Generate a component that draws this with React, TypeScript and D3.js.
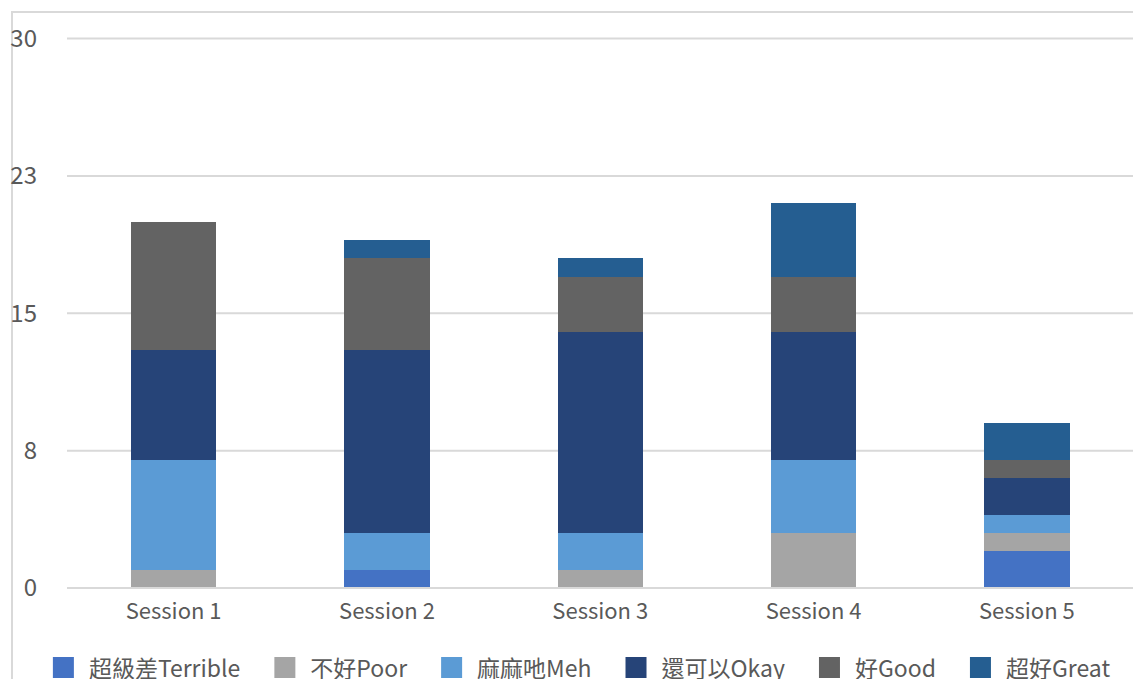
import React, { useEffect, useRef } from "react";
import * as d3 from "d3";

// Stacked survey responses per session
const sessions = ["Session 1", "Session 2", "Session 3", "Session 4", "Session 5"];
const seriesNames = ["超級差Terrible", "不好Poor", "麻麻吔Meh", "還可以Okay", "好Good", "超好Great"];
const terrible = [0, 1, 0, 0, 2];
const poor = [1, 0, 1, 3, 1];
const meh = [6, 2, 2, 4, 1];
const okay = [6, 10, 11, 7, 2];
const good = [7, 5, 3, 3, 1];
const great = [0, 1, 1, 4, 2];
const seriesColors = ["#4472C4", "#A5A5A5", "#5B9BD5", "#264478", "#636363", "#255E91"];
const yTicks = [0, 7.5, 15, 22.5, 30];

const W = 1133;
const H = 679;
const FONT = "'Noto Sans CJK TC', 'Noto Sans', sans-serif";
const TEXT = "#595959";
const GRID = "#D9D9D9";

export default function App() {
  const ref = useRef<SVGSVGElement | null>(null);

  useEffect(() => {
    const svg = d3.select(ref.current);
    svg.selectAll("*").remove();

    const rows = sessions.map((s, i) => ({
      session: s,
      [seriesNames[0]]: terrible[i],
      [seriesNames[1]]: poor[i],
      [seriesNames[2]]: meh[i],
      [seriesNames[3]]: okay[i],
      [seriesNames[4]]: good[i],
      [seriesNames[5]]: great[i],
    }));

    const x = d3
      .scaleBand<string>()
      .domain(sessions)
      .range([67, 1133.5])
      .paddingInner(0.6)
      .paddingOuter(0.3);
    const y = d3.scaleLinear().domain([0, 30]).range([588, 38.5]);
    const color = d3.scaleOrdinal<string, string>().domain(seriesNames).range(seriesColors);

    // chart frame
    svg
      .append("rect")
      .attr("x", 12)
      .attr("y", 12)
      .attr("width", W + 100)
      .attr("height", H + 100)
      .attr("fill", "#fff")
      .attr("stroke", GRID)
      .attr("stroke-width", 2);

    // gridlines
    svg
      .append("g")
      .selectAll("line")
      .data(yTicks)
      .join("line")
      .attr("x1", 67)
      .attr("x2", W)
      .attr("y1", (d) => y(d))
      .attr("y2", (d) => y(d))
      .attr("stroke", GRID)
      .attr("stroke-width", 2);

    // y tick labels
    svg
      .append("g")
      .selectAll("text")
      .data(yTicks)
      .join("text")
      .attr("x", 37)
      .attr("y", (d) => y(d))
      .attr("dy", "0.35em")
      .attr("text-anchor", "end")
      .attr("fill", TEXT)
      .attr("font-family", FONT)
      .attr("font-size", 24)
      .text((d) => d3.format(".0f")(d));

    // stacked bars
    const stack = d3.stack<any>().keys(seriesNames)(rows);
    svg
      .append("g")
      .attr("shape-rendering", "crispEdges")
      .selectAll("g")
      .data(stack)
      .join("g")
      .attr("fill", (d) => color(d.key))
      .selectAll("rect")
      .data((d) => d)
      .join("rect")
      .attr("x", (d: any) => x(d.data.session)!)
      .attr("width", x.bandwidth())
      .attr("y", (d) => Math.round(y(d[1])))
      .attr("height", (d) => Math.round(y(d[0])) - Math.round(y(d[1])));

    // baseline over bars
    svg
      .append("line")
      .attr("x1", 67)
      .attr("x2", W)
      .attr("y1", y(0))
      .attr("y2", y(0))
      .attr("stroke", GRID)
      .attr("stroke-width", 2);

    // category labels
    svg
      .append("g")
      .selectAll("text")
      .data(sessions)
      .join("text")
      .attr("x", (d) => x(d)! + x.bandwidth() / 2)
      .attr("y", 619)
      .attr("text-anchor", "middle")
      .attr("fill", TEXT)
      .attr("font-family", FONT)
      .attr("font-size", 22)
      .text((d) => d);

    // legend
    const legend = svg.append("g");
    const items = legend.selectAll("g").data(seriesNames).join("g");
    items
      .append("rect")
      .attr("width", 21)
      .attr("height", 21)
      .attr("y", 657)
      .attr("fill", (d) => color(d));
    const labels = items
      .append("text")
      .attr("x", 36)
      .attr("y", 677)
      .attr("fill", TEXT)
      .attr("font-family", FONT)
      .attr("font-size", 23)
      .text((d) => d);
    const widths: number[] = [];
    labels.each(function () {
      widths.push((this as SVGTextElement).getComputedTextLength());
    });
    const gap = 34;
    const total = widths.reduce((a, w) => a + 36 + w, 0) + gap * (widths.length - 1);
    let cx = 581.5 - total / 2;
    items.attr("transform", (_d, i) => {
      const t = `translate(${cx},0)`;
      cx += 36 + widths[i] + gap;
      return t;
    });
  }, []);

  return (
    <svg
      ref={ref}
      width={W}
      height={H}
      style={{ position: "absolute", left: 0, top: 0, display: "block", background: "#fff" }}
    />
  );
}
